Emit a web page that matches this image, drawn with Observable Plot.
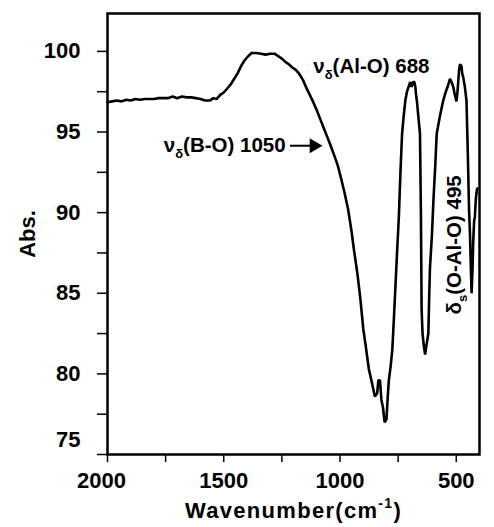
<!DOCTYPE html>
<html><head><meta charset="utf-8">
<script src="https://cdn.jsdelivr.net/npm/d3@7"></script>
<script src="https://cdn.jsdelivr.net/npm/@observablehq/plot@0.6"></script>
<style>
body{margin:0;background:#fff;}
#chart svg{display:block;}
</style></head><body><div id="chart"></div>
<script>
// ---- data ----
const wavenumber = [2000,1980,1960,1940,1920,1900,1880,1860,1840,1820,1800,1780,1760,1740,1720,1700,1680,1660,1640,1620,1600,1580,1560,1545,1530,1515,1500,1485,1470,1455,1440,1425,1410,1395,1380,1360,1340,1320,1300,1280,1265,1250,1235,1220,1205,1190,1175,1160,1145,1130,1115,1100,1085,1070,1055,1040,1025,1010,995,980,965,950,940,925,912,900,890,876,862,850,840,835,828,822,815,808,800,795,790,782,775,768,761,754,747,740,733,726,719,712,705,698,692,686,680,676,672,669,662,656,652,649,645,640,634,628,620,616,613,605,598,590,584,570,556,545,535,527,520,513,506,499,494,488,484,478,474,470,463,456,450,445,441,437,434,430,427,423,420,416,413,410];
const absorbance = [96.85,96.9,96.95,96.9,97.0,96.95,97.05,97.0,97.05,97.05,97.05,97.1,97.1,97.1,97.2,97.1,97.2,97.15,97.15,97.1,97.05,96.95,96.95,97.1,97.05,97.3,97.45,97.7,97.95,98.3,98.65,99.1,99.45,99.7,99.9,99.9,99.85,99.8,99.85,99.85,99.7,99.55,99.35,99.2,99.0,98.85,98.6,98.25,97.75,97.3,96.85,96.35,95.8,95.25,94.7,94.15,93.55,92.95,92.1,91.2,90.2,88.8,87.7,86.2,84.6,82.8,81.8,80.3,79.4,78.6,78.8,79.6,79.6,78.4,77.9,77.0,77.2,78.5,79.6,80.5,81.5,83.5,85.6,87.7,89.7,92.5,94.9,96.0,96.95,97.5,97.8,98.1,97.8,98.1,98.1,97.8,97.2,96.9,95.8,94.9,90.0,84.0,82.5,81.8,81.2,81.8,82.5,85.0,86.6,88.5,90.8,93.0,94.9,96.0,96.95,97.5,97.9,98.3,98.1,97.8,97.3,96.9,97.6,98.8,99.2,99.1,98.6,98.4,97.8,96.95,93.5,90.2,88.7,86.5,85.0,86.5,88.2,89.5,89.7,90.8,91.2,91.5];

const yTicks = [75,77.5,80,82.5,85,87.5,90,92.5,95,97.5,100];
const yLabelTicks = [80,85,90,95,100];
const xTicks = [500,750,1000,1250,1500,1750,2000];
const xLabelTicks = [500,1000,1500];

const annoText = ["νδ(B-O) 1050", "νδ(Al-O) 688", "δs(O-Al-O) 495"];
const annoX = [1496, 865, 507];
const annoY = [94.15, 99.05, 88.0];
const annoRotate = [0, 0, -90];

const arrowX1 = [1213];
const arrowX2 = [1125];
const arrowY = [94.15];
const arrowTipX = [1112];

const xTitle = "Wavenumber(cm-1)";
const yTitle = "Abs.";

const spectrum = wavenumber.map((w, i) => ({w, a: absorbance[i]}));
const annotations = annoText.map((t, i) => ({t, x: annoX[i], y: annoY[i], r: annoRotate[i]}));
const arrows = arrowX1.map((x1, i) => ({x1, x2: arrowX2[i], y: arrowY[i], tip: arrowTipX[i]}));

const FONT = "'Liberation Sans', Arial, sans-serif";

const plot = Plot.plot({
  width: 494,
  height: 527,
  marginLeft: 107,
  marginRight: 15,
  marginTop: 13,
  marginBottom: 73,
  style: {fontFamily: FONT, fontWeight: "bold", background: "#fff", color: "#000"},
  x: {domain: [2000, 400]},
  y: {domain: [75, 102.35]},
  marks: [
    Plot.axisY({ticks: yTicks, tickSize: 10, tickPadding: 17, strokeWidth: 1.5,
      tickFormat: d => yLabelTicks.includes(d) ? String(d) : "",
      fontSize: 22, fontWeight: "bold", fontFamily: FONT,
      label: yTitle, labelAnchor: "center", labelArrow: "none", labelOffset: 88}),
    Plot.text([75], {y: d => d, frameAnchor: "left", dx: -27, dy: -15, textAnchor: "end",
      text: d => String(d), fontSize: 22, fontWeight: "bold", fontFamily: FONT}),
    Plot.axisX({ticks: xTicks, tickSize: 8, tickPadding: 10, strokeWidth: 1.5,
      tickFormat: d => xLabelTicks.includes(d) ? String(d) : "",
      fontSize: 22, fontWeight: "bold", fontFamily: FONT,
      label: xTitle, labelAnchor: "center", labelArrow: "none", labelOffset: 63}),
    Plot.text([2000], {x: d => d, frameAnchor: "bottom", dy: 18, dx: -6, lineAnchor: "top",
      text: d => String(d), fontSize: 22, fontWeight: "bold", fontFamily: FONT}),
    Plot.frame({stroke: "#000", strokeWidth: 2.5}),
    Plot.line(spectrum, {x: "w", y: "a", stroke: "#000", strokeWidth: 2.6, strokeLinejoin: "miter"}),
    Plot.ruleY(arrows, {x1: "x1", x2: "x2", y: "y", stroke: "#000", strokeWidth: 2}),
    Plot.dot(arrows, {x: "tip", y: "y", symbol: "triangle", rotate: 90, r: 5.5, fill: "#000", stroke: "none"}),
    Plot.text(annotations, {x: "x", y: "y", text: "t", rotate: "r", fontSize: 20.5, fontWeight: "bold", fontFamily: FONT, fill: "#000"})
  ]
});
document.getElementById("chart").append(plot);

// rich text: subscripts / superscripts
const svg = d3.select(plot);
function rich(match, parts, size) {
  svg.selectAll("text").filter(function() { return this.textContent === match; }).each(function() {
    const t = d3.select(this);
    const tspans = t.selectAll("tspan");
    const target = tspans.empty() ? t : d3.select(tspans.nodes()[0]);
    target.text(null);
    let shift = 0;
    for (const p of parts) {
      const s = target.append("tspan").text(p.t);
      let want = 0;
      if (p.sub) { s.attr("font-size", Math.round(size * 0.62)); want = size * 0.3; }
      if (p.sup) { s.attr("font-size", Math.round(size * 0.62)); want = -size * 0.45; }
      if (want - shift !== 0) s.attr("dy", want - shift);
      shift = want;
    }
  });
}
rich("νδ(B-O) 1050", [{t: "ν"}, {t: "δ", sub: true}, {t: "(B-O) 1050"}], 20.5);
rich("νδ(Al-O) 688", [{t: "ν"}, {t: "δ", sub: true}, {t: "(Al-O) 688"}], 20.5);
rich("δs(O-Al-O) 495", [{t: "δ"}, {t: "s", sub: true}, {t: "(O-Al-O) 495"}], 20.5);
rich("Wavenumber(cm-1)", [{t: "Wavenumber(cm"}, {t: "-1", sup: true}, {t: ")"}], 22);
svg.selectAll("text").filter(function() { return this.textContent.startsWith("Wavenumber"); })
  .attr("font-size", 22).attr("font-weight", "bold").attr("fill", "#000").attr("letter-spacing", 1.3);
svg.selectAll("text").filter(function() { return this.textContent === "Abs."; })
  .attr("font-size", 22).attr("font-weight", "bold").attr("fill", "#000");
</script>
</body></html>
